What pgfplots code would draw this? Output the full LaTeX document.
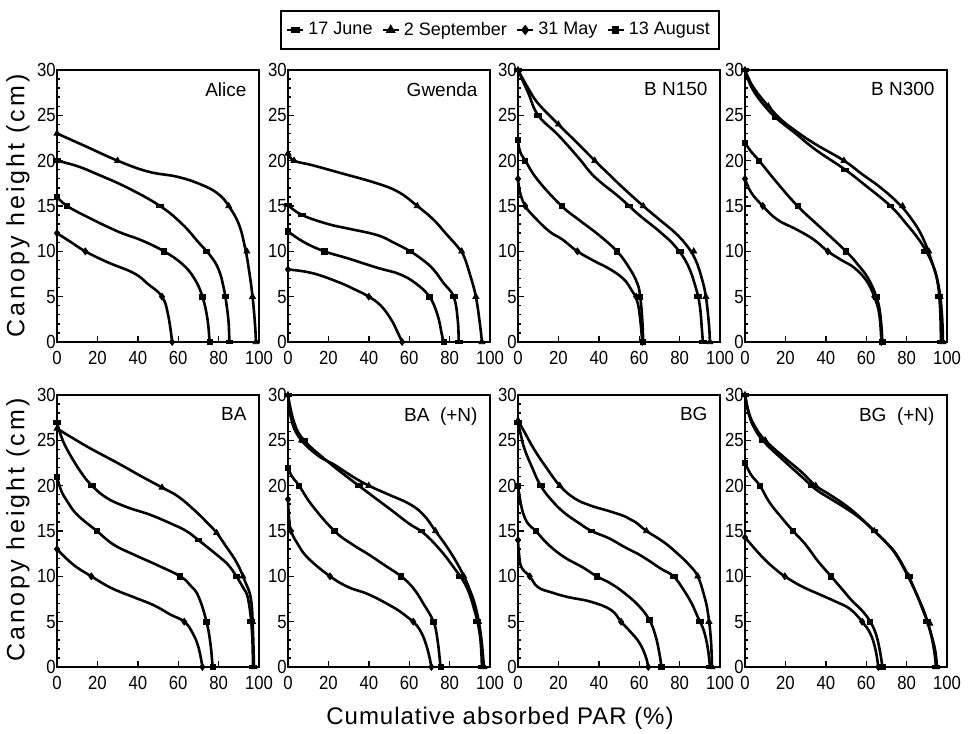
\documentclass[border=0pt]{standalone}
\usepackage{pgfplots}
\pgfplotsset{compat=1.18}
\usepackage{fontspec}
\setmainfont{Liberation Sans}
\newfontfamily\narrowfont[FakeStretch=0.88]{Liberation Sans}
\newfontfamily\ylabfont[LetterSpace=12]{Liberation Sans}
\newfontfamily\xlabfont[LetterSpace=4]{Liberation Sans}
\pgfplotsset{
  panel/.style={scale only axis, width=101pt, height=136pt, anchor=south west,
    xmin=0, xmax=100, ymin=0, ymax=30, clip=false,
    xtick={0,20,...,100}, ytick={0,5,...,30}, minor y tick num=4,
    tick pos=left, tick align=inside, major tick length=3pt, minor tick length=1.6pt,
    tick style={black, line width=0.7pt},
    axis line style={line width=1pt},
    /pgf/number format/assume math mode=true,
    tick label style={font=\narrowfont\fontsize{9.5}{10}\selectfont},
    xticklabel style={yshift=-1pt},
    yticklabel style={xshift=0.5pt, inner xsep=1pt},
  },
  crvline/.style={black, line width=1.3pt, smooth, tension=0.7, no marks, forget plot},
  mD/.style={black, mark=triangle*, mark size=1.7pt},
  mJ/.style={black, mark=square*, mark size=1.2pt, mark options={xscale=1.4, yscale=0.75}},
  mM/.style={black, mark=diamond*, mark size=1.7pt},
  mA/.style={black, mark=square*, mark size=1.3pt},
}
\newcommand{\crv}[3]{%
  \addplot[crvline] coordinates {#2};
  \addplot[#1, only marks, forget plot] coordinates {#3};}
\newcommand{\ptitle}[1]{\node[anchor=north east, inner sep=0pt, font=\fontsize{9.5}{10}\selectfont] at (rel axis cs:0.94,0.955) {#1};}
\begin{document}
\begin{tikzpicture}
\path[use as bounding box] (0,0) rectangle (484pt,366.5pt);
% ---------- Alice
\begin{axis}[panel, at={(28.5pt,195.5pt)},
  legend style={at={(axis description cs:2.193,1.147)}, anchor=center, legend columns=4,
    draw=black, line width=0.9pt, font=\fontsize{9}{10}\selectfont, inner xsep=2.5pt, inner ysep=3.5pt,
    /tikz/every even column/.append style={column sep=2.5pt}},
  legend image code/.code={\draw[mark repeat=2,mark phase=2,#1] plot coordinates {(0pt,0pt) (4pt,0pt) (8pt,0pt)};}]
\crv{mJ}{(0,20)(10,19.4)(20,18.5)(35,17)(51,15)(62,13)(70,11)(76,9.5)(80,8)(82.5,6)(84,4)(85,2)(85.3,0)}{(0,20)(51,15)(74,10)(83.3,5)(85.3,0)}
\crv{mD}{(0,23)(15,21.5)(30,20)(45,18.8)(60,18.2)(72,17.3)(80,16.3)(85,15)(90,13)(93,10.5)(95,8)(96.8,5)(98,2)(98.5,0)}{(0,23)(30,20)(85,15)(94,10)(96.8,5)(98.5,0)}
\crv{mA}{(0,16)(5,15)(15,13.8)(30,12.2)(42,11.2)(53,10)(62,8.6)(68,7)(72,5)(74.5,2.5)(75.5,0)}{(0,16)(5,15)(53,10)(72,5)(75.5,0)}
\crv{mM}{(0,12)(7,11)(14,10)(25,8.8)(38,7.6)(45,6.4)(52,5)(55,3)(57,0)}{(0,12)(14,10)(52,5)(57,0)}
\ptitle{Alice}
\addlegendimage{mJ, line width=1.2pt}\addlegendentry{17 June}
\addlegendimage{mD, line width=1.2pt}\addlegendentry{2 September}
\addlegendimage{mM, line width=1.2pt}\addlegendentry{31 May}
\addlegendimage{mA, line width=1.2pt}\addlegendentry{13 August}
\end{axis}
% ---------- Gwenda
\begin{axis}[panel, at={(144pt,195.5pt)}]
\crv{mD}{(0,20.8)(3,20)(12,19.5)(25,18.7)(44,17.5)(55,16.5)(64,15)(72,13.5)(78,12)(84,10.5)(87,9.5)(90,7.5)(93,5)(95,2)(96,0)}{(0,20.8)(3,20)(64,15)(86,10)(93,5)(96,0)}
\crv{mJ}{(0,15.1)(7,14)(20,13)(30,12.5)(44,11.8)(52,11)(60.5,10)(67,9)(72,8)(77,6.5)(82,5)(84,2.5)(84.5,0)}{(0,15.1)(7,14)(60.5,10)(82,5)(84.5,0)}
\crv{mA}{(0,12.2)(8,11)(18,10)(30,9.2)(44,8.2)(55,7.5)(63,6.5)(70,5)(74,3)(76,1)(77,0)}{(0,12.2)(18,10)(70,5)(77,0)}
\crv{mM}{(0,8)(12,7.6)(25,6.6)(33,5.8)(40,5)(46,4)(51,2.5)(54,1.2)(56.5,0)}{(0,8)(40,5)(56.5,0)}
\ptitle{Gwenda}
\end{axis}
% ---------- B N150
\begin{axis}[panel, at={(259pt,195.5pt)}]
\crv{mD}{(0,30)(5,28)(10,26.3)(20,24)(30,21.8)(38,20)(45,18.5)(52,17)(62,15)(70,13.5)(78,12)(84,10.5)(88,9)(91,7)(93,5)(94.5,2)(95,0)}{(0,30)(20,24)(38,20)(62,15)(87,10)(93,5)(95,0)}
\crv{mJ}{(0,30)(5,27.5)(10,25)(20,22.8)(30,20.3)(38,18.2)(50,16)(60,14)(70,12.2)(78,10.5)(84,8.5)(88,6)(90,4)(91,1.5)(91.5,0)}{(0,30)(10,25)(55,15)(80,10)(89,5)(91.5,0)}
\crv{mA}{(0,22.3)(1,21)(3.6,20)(10,17.8)(21.6,15)(30,13.5)(40,11.8)(49,10)(55,8.2)(59,6.5)(60.5,5)(61.5,2.5)(62,0)}{(0,22.3)(3.6,20)(21.6,15)(49,10)(60.5,5)(62,0)}
\crv{mM}{(0,18)(1,16.5)(3.6,15)(8,13.8)(15.5,12.2)(22,11.3)(29.4,10)(38,8.9)(45,8.1)(52,7)(56,5.8)(59,4.5)(60.5,2.5)(61.5,0)}{(0,18)(3.6,15)(29.4,10)(58.5,5)(61.5,0)}
\ptitle{B N150}
\end{axis}
% ---------- B N300
\begin{axis}[panel, at={(372.5pt,195.5pt)}]
\crv{mD}{(0,30)(3,28.5)(6,27.5)(11.6,26)(18,24.5)(25.6,23.2)(35,21.8)(49,20)(58,18.5)(65,17.4)(75,15.5)(82,13.7)(88,11.5)(93,8.5)(96,6)(97.5,3)(98,0)}{(0,30)(11.6,26)(49,20)(78,15)(91,10)(96.5,5)(98,0)}
\crv{mJ}{(0,30)(3,28.2)(8,26.5)(15,24.8)(25,23)(35,21.2)(49.6,19)(60,17.2)(72,15)(80,13)(87,11)(92,9)(95,7)(96.5,4)(97,0)}{(0,30)(15,24.8)(49.6,19)(72,15)(89,10)(96,5)(97,0)}
\crv{mA}{(0,22)(3,21)(7,20)(15,17.8)(26,15)(38,12.5)(50,10)(56,8.5)(61,7)(65,5)(67,3)(68,0)}{(0,22)(7,20)(26,15)(50,10)(65,5)(68,0)}
\crv{mM}{(0,18)(3,16.5)(8.8,15)(16,13.5)(25.6,12.4)(34,11.3)(41,10)(48,9)(54,8.2)(60,6.8)(64,5)(66.5,3)(67.5,0)}{(0,18)(8.8,15)(41,10)(64,5)(67.5,0)}
\ptitle{B N300}
\end{axis}
% ---------- BA
\begin{axis}[panel, at={(28.5pt,33pt)}]
\crv{mD}{(0,26.3)(15,24.3)(30,22.5)(42,21)(52,19.8)(60,18.8)(68,17.3)(74,16)(79,14.8)(84,13.2)(89,11.5)(93,9.5)(96,7.5)(97,4)(97.5,0)}{(0,26.3)(52,19.8)(79,14.8)(92,10)(96.8,5)(97.5,0)}
\crv{mJ}{(0,27)(2,25.5)(5,24)(11.5,21.6)(17.3,20)(25,18.6)(35,17.6)(46,16.8)(57.6,15.7)(64,15)(70,14)(80.6,12.1)(85,11.2)(88.8,10)(92,8.8)(94.6,7.5)(96.5,4)(97,0)}{(0,27)(17.3,20)(70,14)(88.8,10)(96,5)(97,0)}
\crv{mA}{(0,21)(2,19.5)(5,18.3)(10,16.8)(19.7,15)(28,13.5)(38,12.4)(50,11.2)(61,10)(66,9)(70,7.8)(74,5)(76,2.5)(77,0)}{(0,21)(19.7,15)(61,10)(74,5)(77,0)}
\crv{mM}{(0,13)(8,11.3)(17,10)(27,8.7)(38,7.7)(48,6.8)(56,5.8)(63,5)(67,3.8)(70,2.2)(72,0)}{(0,13)(17,10)(63,5)(72,0)}
\ptitle{BA}
\end{axis}
% ---------- BA (+N)
\begin{axis}[panel, at={(144pt,33pt)}]
\crv{mD}{(0,30)(2,27)(6.7,25)(15,23.3)(23,22.3)(32,21)(40,20)(50,19)(60,18)(67,16.8)(73,15)(80,12.8)(86,10.5)(90,8.5)(93,6.5)(95.5,3.5)(97,0)}{(0,30)(6.7,25)(40,20)(73,15)(87,10)(94.3,5)(97,0)}
\crv{mJ}{(0,30)(3,27)(8,25)(20,22.6)(35,20)(50,17.5)(60,15.8)(67,14.8)(75,13)(82,11)(88,9)(92,6.5)(95,3.5)(96,0)}{(0,30)(8,25)(35,20)(66,15)(85,10)(93.5,5)(96,0)}
\crv{mA}{(0,22)(2,21)(5.5,20)(12,17.8)(23,15)(32,13.5)(40,12.4)(48,11.2)(56,10)(62,8.7)(67,7)(72,5)(74,3)(75.5,0)}{(0,22)(5.5,20)(23,15)(56,10)(72,5)(75.5,0)}
\crv{mM}{(0,18.5)(0.5,16.5)(1.5,15)(5,13.5)(10,12)(20.8,10)(30,8.8)(40,8)(52,6.6)(58,5.7)(62,5)(66,3.8)(69,2)(71,0)}{(0,18.5)(1.5,15)(20.8,10)(62,5)(71,0)}
\ptitle{BA\ \ (+N)}
\end{axis}
% ---------- BG
\begin{axis}[panel, at={(259pt,33pt)}]
\crv{mD}{(0,27.2)(3,26)(8,24)(14,22)(20.7,20)(28,18.6)(36,17.8)(45,17.2)(53,16.6)(58,16)(63.6,15)(72,13.8)(79,12.5)(85,11.2)(89,10)(92,8)(94,6)(95.5,3)(96,0)}{(0,27.2)(20.7,20)(63.6,15)(89,10)(94.5,5)(96,0)}
\crv{mJ}{(0,27)(1.5,25.5)(3.3,24)(7,22)(11.2,20)(17,18.3)(23,17)(30,15.9)(36.4,15)(45,14.2)(53,13.2)(60,12.4)(65,11.7)(71,10.8)(77,10)(82,8.5)(86,7)(89,5.5)(92,4)(94,2)(95,0)}{(0,27)(11.2,20)(36.4,15)(77,10)(90,5)(95,0)}
\crv{mA}{(0,20)(1,18.5)(2.5,17)(5,15.8)(8.8,15)(15,13.5)(23,12.1)(32,11)(39,10)(46,9.2)(53,8.1)(60,6.7)(65,5.2)(68,3.5)(70,1.5)(71,0)}{(0,20)(8.8,15)(39,10)(65,5.2)(71,0)}
\crv{mM}{(0,14)(0.5,12.5)(1.7,11)(5.8,10)(9.9,8.8)(17,8.2)(25,7.7)(36,7.2)(46,6.3)(51,5)(56,3.8)(60,2.7)(63,1.3)(64.5,0)}{(0,14)(5.8,10)(51,5)(64.5,0)}
\ptitle{BG}
\end{axis}
% ---------- BG (+N)
\begin{axis}[panel, at={(372.5pt,33pt)}]
\crv{mD}{(0,30)(2,28)(5,26.5)(10,25)(20,23)(28,21.5)(35,20)(42,19)(50,17.8)(57,16.5)(64,15)(70,13.7)(75,12.4)(81,10)(85,8)(88,6.5)(91,4.5)(94,2)(95,0)}{(0,30)(10,25)(35,20)(64,15)(81,10)(91.5,4.8)(95,0)}
\crv{mJ}{(0,30)(2,27.8)(5,26.2)(10,24.7)(20,22.6)(28,21)(35,19.6)(42,18.6)(50,17.5)(57,16.4)(64,15)(70,13.7)(75,12.3)(80,10.3)(85,8)(88,6.3)(91,4.5)(93.5,2)(94.5,0)}{(0,30)(9,25)(33,20)(64,15)(81,10)(90,5)(94.5,0)}
\crv{mA}{(0,22.5)(3,21.2)(7.4,20)(12,18.2)(18,16.5)(23.8,15)(30,13.5)(36,11.7)(42.6,10)(48,8.6)(53,7.3)(58,6.2)(62,5)(65,3.5)(67,1.5)(68,0)}{(0,22.5)(7.4,20)(23.8,15)(42.6,10)(62,5)(68,0)}
\crv{mM}{(0,14.3)(5,13)(10,11.8)(15,10.8)(19.7,10)(28,8.9)(37,8)(45,7.2)(52,6.4)(58,5)(62,3.7)(64.5,2)(66,0)}{(0,14.3)(19.7,10)(58,5)(66,0)}
\ptitle{BG\ \ (+N)}
\end{axis}
% ---------- labels
\node[rotate=90, font=\ylabfont\fontsize{12.5}{14}\selectfont] at (9pt,263.5pt) {Canopy height (cm)};
\node[rotate=90, font=\ylabfont\fontsize{12.5}{14}\selectfont] at (9pt,101.5pt) {Canopy height (cm)};
\node[font=\xlabfont\fontsize{12}{14}\selectfont] at (250pt,7.5pt) {Cumulative absorbed PAR (\%)};
\end{tikzpicture}
\end{document}
